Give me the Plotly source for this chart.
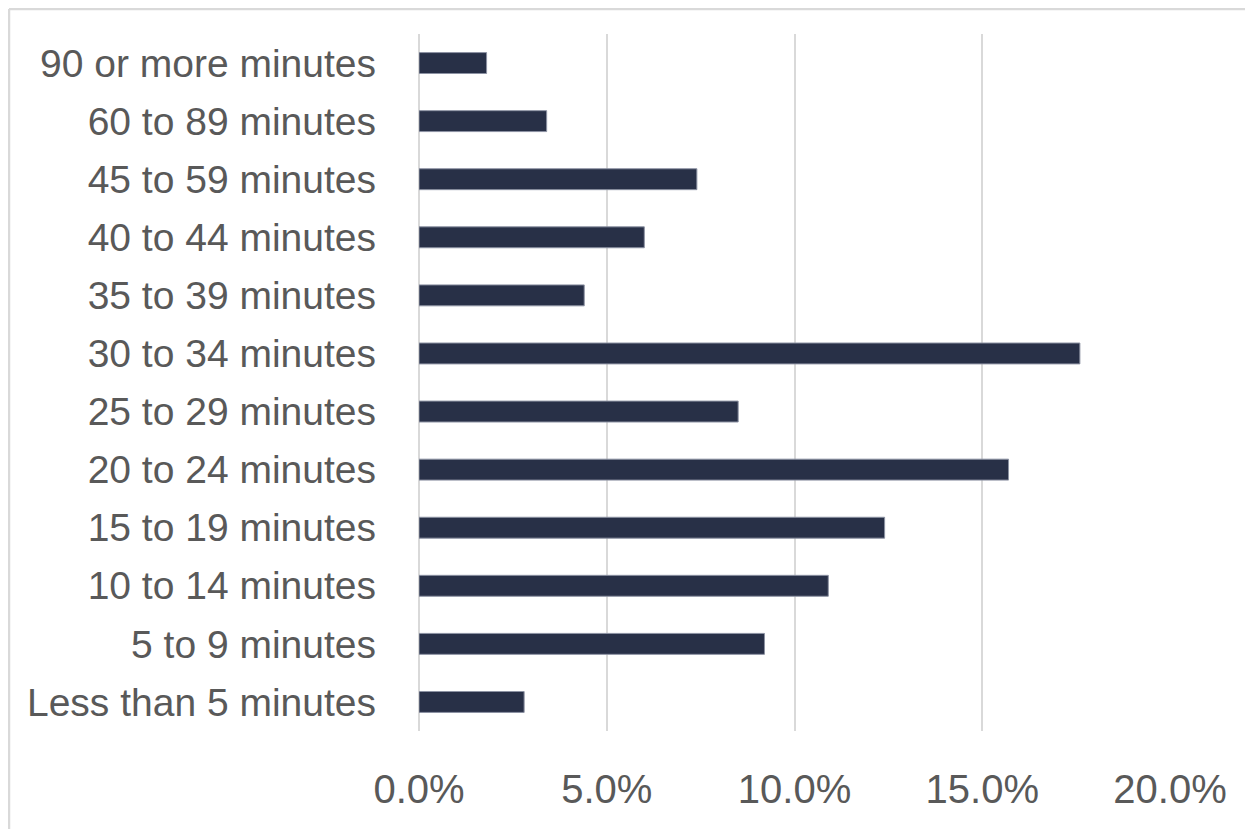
import plotly.graph_objects as go

categories = [
    "Less than 5 minutes", "5 to 9 minutes", "10 to 14 minutes", "15 to 19 minutes",
    "20 to 24 minutes", "25 to 29 minutes", "30 to 34 minutes", "35 to 39 minutes",
    "40 to 44 minutes", "45 to 59 minutes", "60 to 89 minutes", "90 or more minutes",
]
values = [2.8, 9.2, 10.9, 12.4, 15.7, 8.5, 17.6, 4.4, 6.0, 7.4, 3.4, 1.8]
tick_vals = [0, 5, 10, 15, 20]
tick_text = ["0.0%", "5.0%", "10.0%", "15.0%", "20.0%"]

# page has an 8px body margin, so the figure is sized/offset to compensate
W, H = 1245, 821
ML, MR, MT, MB = 411, 83, 26, 98
FONT = "Liberation Sans Narrow, Arial Narrow, Liberation Sans, Arial, sans-serif"
TXT = "#595959"
GRID = "#d9d9d9"

fig = go.Figure(go.Bar(
    x=values, y=categories, orientation="h", width=0.36,
    marker=dict(color="#283047", line=dict(color="#8c92a3", width=1)),
    hoverinfo="x+y",
))

pw = W - ML - MR
ph = H - MT - MB
# chart border (top and left edges visible)
x_left = (1 - ML) / pw
y_top = (ph + MT - 1) / ph
fig.add_shape(type="line", xref="paper", yref="paper", x0=x_left, x1=(W - ML) / pw + 0.1,
              y0=y_top, y1=y_top, line=dict(color=GRID, width=2.5))
fig.add_shape(type="line", xref="paper", yref="paper", x0=x_left, x1=x_left,
              y0=y_top, y1=-0.5, line=dict(color=GRID, width=2.5))

fig.update_layout(
    width=W, height=H,
    margin=dict(l=ML, r=MR, t=MT, b=MB, autoexpand=False),
    paper_bgcolor="white", plot_bgcolor="white",
    showlegend=False,
    font=dict(family=FONT, color=TXT, size=39),
    bargap=0.64,
)
fig.update_xaxes(
    range=[0, 20], tickvals=tick_vals, ticktext=tick_text,
    showgrid=True, gridcolor=GRID, gridwidth=2,
    zeroline=True, zerolinecolor=GRID, zerolinewidth=2,
    showline=False, ticks="", ticklabelstandoff=31, automargin=False,
    tickfont=dict(family=FONT, color=TXT, size=40),
    fixedrange=True,
)
fig.update_yaxes(
    categoryorder="array", categoryarray=categories,
    range=[-0.5, len(categories) - 0.5],
    showgrid=False, zeroline=False, showline=False, ticks="",
    ticklabelstandoff=42, automargin=False,
    tickfont=dict(family=FONT, color=TXT, size=39),
    fixedrange=True,
)

fig.write_html("out.html")
